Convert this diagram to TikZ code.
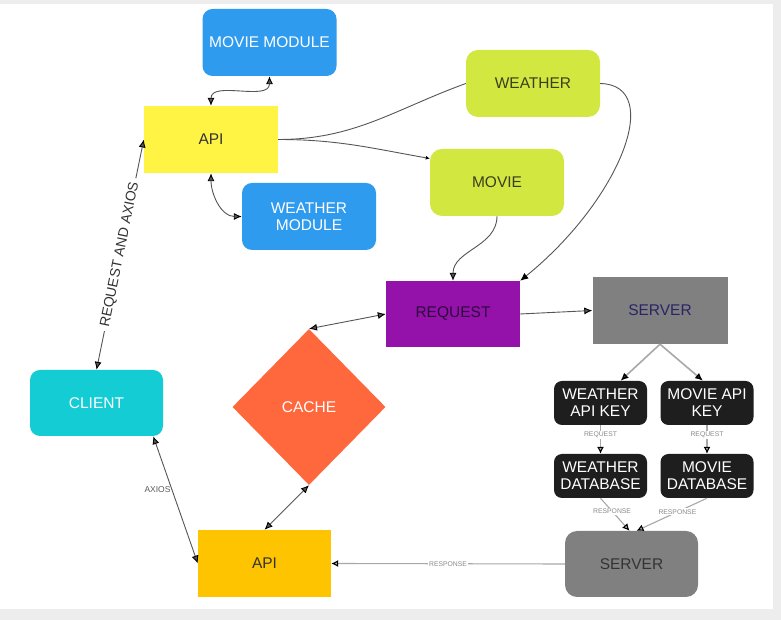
\documentclass[tikz,border=0pt]{standalone}
\usepackage{fontspec}
\setmainfont{Liberation Sans}
\usetikzlibrary{arrows.meta,shapes.geometric}
\definecolor{pagegray}{HTML}{EDEDED}
\definecolor{modblue}{HTML}{2E9BEF}
\definecolor{apiyellow}{HTML}{FFF344}
\definecolor{lime}{HTML}{D2E841}
\definecolor{limetext}{HTML}{3B3F1E}
\definecolor{reqpurple}{HTML}{9411AA}
\definecolor{reqtext}{HTML}{2B0B3D}
\definecolor{srvfill}{HTML}{808080}
\definecolor{srvtext}{HTML}{2A2466}
\definecolor{clientcyan}{HTML}{14CCD4}
\definecolor{cacheorange}{HTML}{FF673C}
\definecolor{apigold}{HTML}{FFC400}
\definecolor{keyblack}{HTML}{1E1E1E}
\definecolor{textdark}{HTML}{333333}
\definecolor{linegray}{HTML}{555555}
\definecolor{srvgray}{HTML}{A8A8A8}
\definecolor{taggray}{HTML}{8A8A8A}
\begin{document}
\begin{tikzpicture}[x=1pt, y=1pt, >={Latex[length=8pt,width=7pt,color=black]},
    box/.style={minimum width=134pt,minimum height=67pt,inner sep=2pt,align=center,font=\fontsize{15.5}{17}\selectfont},
    modbox/.style={box,rounded corners=10pt,fill=modblue,text=white},
    topicbox/.style={box,rounded corners=12pt,fill=lime,text=limetext},
    keybox/.style={box,minimum width=93pt,minimum height=44pt,inner sep=1pt,rounded corners=8pt,fill=keyblack,text=white},
    link/.style={color=linegray,line width=0.9pt},
    srvlink/.style={color=srvgray,line width=1.6pt},
    resp/.style={color=srvgray,line width=1.1pt,-{Latex[length=7pt,width=7pt,color=black]}},
    tag/.style={font=\fontsize{6.8}{7}\selectfont,text=taggray,fill=white,inner sep=1pt}]

            \fill[pagegray] (0,0) rectangle (781,620);
            \fill[white] (0,11) rectangle (773,616);
            \useasboundingbox (0,0) rectangle (781,620);

            \node[modbox] at (269.5,577.5) (moviemod) {MOVIE MODULE};
            \node[box,fill=apiyellow,text=textdark] at (211,480.5) (api) {API};
            \node[modbox] at (309,403.5) (weathermod) {WEATHER\\MODULE};
            \node[topicbox] at (533,536.5) (weather) {WEATHER};
            \node[topicbox] at (497,437.5) (movie) {MOVIE};
            \node[box,fill=reqpurple,text=reqtext,minimum height=66pt] at (453,306) (request) {REQUEST};
            \node[box,fill=srvfill,text=srvtext,minimum width=135pt] at (660,309.5) (server) {SERVER};
            \node[box,rounded corners=10pt,fill=clientcyan,text=white,minimum width=133pt,minimum height=66pt] at (96.5,217) (client) {CLIENT};
            \node[diamond,fill=cacheorange,text=white,minimum width=153pt,minimum height=156pt,inner sep=0pt,font=\fontsize{15.5}{17}\selectfont] at (309,213) (cache) {CACHE};
            \node[box,fill=apigold,text=textdark,minimum width=133pt] at (264.5,56.5) (apiout) {API};
            \node[keybox] at (600.5,217) (wkey) {WEATHER\\API KEY};
            \node[keybox] at (707,217) (mkey) {MOVIE API\\KEY};
            \node[keybox] at (600.5,144) (wdb) {WEATHER\\DATABASE};
            \node[keybox] at (707,144) (mdb) {MOVIE\\DATABASE};
            \node[box,rounded corners=12pt,fill=srvfill,text=textdark,minimum width=133pt,minimum height=66pt] at (631.5,56) (servout) {SERVER};

            \path[<->,link] (api.north) edge[out=90,in=-90] (moviemod.south);
            \path[<->,link] (api.south) edge[out=-90,in=180] (weathermod.west);
            \path[link] (api.east) edge[out=0,in=200] (weather.west);
            \path[-{Latex[length=4pt,width=4pt,color=black]},link] (api.east) edge[out=0,in=170] ([yshift=24pt]movie.west);
            \draw[->,link] (weather.east) .. controls (665,535) and (620,420) .. (request.north east);
            \path[->,link] (movie.south) edge[out=-90,in=90] (request.north);
            \path[->,link] (request.east) edge (server.west);
            \path[<->,link] (request.west) edge (cache.north);
            \path[<->,link] (apiout.north) edge (cache.south);
            \path[<->,link] (client.north) edge node[sloped,fill=white,inner sep=4pt,text=textdark,font=\fontsize{14}{14}\selectfont] {REQUEST AND AXIOS} (api.west);
            \path[<->,link] ([xshift=-10pt]client.south east) edge node[pos=0.42,left=1pt,inner sep=0pt,text=textdark!80,font=\fontsize{8.5}{9}\selectfont] {AXIOS} (apiout.west);

            \path[->,srvlink] (server.south) edge ([xshift=20pt]wkey.north) edge ([xshift=-4pt]mkey.north);
            \path[resp] (wkey.south) edge node[tag,pos=0.35] {REQUEST} (wdb.north);
            \path[resp] (mkey.south) edge node[tag,pos=0.35] {REQUEST} (mdb.north);
            \path[resp] (wdb.south) edge node[tag,pos=0.4] {RESPONSE} ([xshift=-2pt]servout.north);
            \path[resp] (mdb.south) edge node[tag,pos=0.42] {RESPONSE} ([xshift=5pt]servout.north);
            \path[resp] (servout.west) edge node[tag] {RESPONSE} (apiout.east);
        \end{tikzpicture}
\end{document}
